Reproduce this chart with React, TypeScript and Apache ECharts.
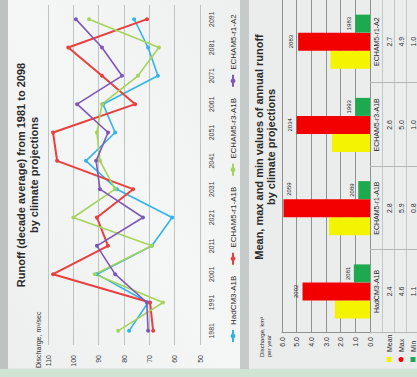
import React, { useEffect, useRef } from "react";
import * as echarts from "echarts";

// ---- Runoff (decade average) line chart data ----
const years = ["1981", "1991", "2001", "2011", "2021", "2031", "2041", "2051", "2061", "2071", "2081", "2091"];
const hadcm3A1B = [78, 70.5, 90.7, 69, 61, 82.8, 95, 83.5, 88.3, 66.6, 70.5, 76];
const echam5r1A1B = [68.5, 69.7, 108, 86.3, 90.7, 76.4, 106.4, 108, 75.6, 88.7, 102, 70.9];
const echam5r3A1B = [82.3, 64.6, 91.5, 69, 100, 83.5, 89.5, 90.7, 88.7, 74.5, 66.2, 93.8];
const echam5r1A2 = [70.5, 71, 83.5, 90.7, 72.5, 89.5, 91, 86.3, 98.5, 80.8, 88.7, 99];
const lineNames = ["HadCM3-A1B", "ECHAM5-r1-A1B", "ECHAM5-r3-A1B", "ECHAM5-r1-A2"];
const lineColors = ["#33B4E4", "#E8403F", "#A5D45A", "#7E57B8"];
const runoffMin = 50;
const runoffMax = 110;
const runoffStep = 10;

// ---- Mean / max / min bar chart data ----
const projections = ["HadCM3-A1B", "ECHAM5-r1-A1B", "ECHAM5-r3-A1B", "ECHAM5-r1-A2"];
const meanRunoff = [2.4, 2.8, 2.6, 2.7];
const maxRunoff = [4.6, 5.9, 5.0, 4.9];
const minRunoff = [1.1, 0.8, 1.0, 1.0];
const maxYear = ["2002", "2059", "2034", "2083"];
const minYear = ["2081", "2089", "1993", "1983"];
const barNames = ["Mean", "Max", "Min"];
const barColors = ["#F4F400", "#F20000", "#1DAA4E"];

const FONT = "Liberation Sans";

function buildOption(): any {
  const lineData = [hadcm3A1B, echam5r1A1B, echam5r3A1B, echam5r1A2];
  const tableRows = [meanRunoff, maxRunoff, minRunoff];

  const txt = (x: number, y: number, text: string, size: number, bold: boolean, align = "center") => ({
    type: "text",
    x,
    y,
    silent: true,
    z: 5,
    style: {
      text,
      fontSize: size,
      fontWeight: bold ? "bold" : "normal",
      fontFamily: FONT,
      fill: "#2a2a2a",
      align,
      verticalAlign: "middle",
    },
  });

  return {
    animation: false,
    backgroundColor: "transparent",
    textStyle: { fontFamily: FONT },
    graphic: [
      { type: "rect", silent: true, z: -10, shape: { x: 0, y: 0, width: 377, height: 417 }, style: { fill: "#E4E8E6" } },
      {
        type: "rect", silent: true, z: -9, shape: { x: 9, y: 8, width: 368, height: 232 },
        style: {
          fill: new echarts.graphic.LinearGradient(0, 0, 1, 1, [
            { offset: 0, color: "#EDEFEE" },
            { offset: 0.5, color: "#F5F6F6" },
            { offset: 1, color: "#EEF0EF" },
          ]),
        },
      },
      { type: "rect", silent: true, z: -9, shape: { x: 0, y: 240, width: 377, height: 9 }, style: { fill: "#C6CAC9" } },
      { type: "rect", silent: true, z: -9, shape: { x: 9, y: 249, width: 368, height: 168 }, style: { fill: "#EBEDEC" } },
      { type: "rect", silent: true, z: -8, shape: { x: 0, y: 0, width: 377, height: 8 }, style: { fill: "#BEC3C1" } },
      { type: "rect", silent: true, z: -8, shape: { x: 0, y: 0, width: 8, height: 417 }, style: { fill: "#CFE4D3" } },
      txt(202, 21, "Runoff (decade average) from 1981 to 2098", 11, true),
      txt(202, 34, "by climate projections", 11, true),
      txt(9, 38, "Discharge, m³/sec", 7, false, "left"),
      txt(230, 259, "Mean, max and min values of annual runoff", 11, true),
      txt(230, 271, "by climate projections", 11, true),
      txt(20, 262, "Discharge, km³", 6, false, "left"),
      txt(20, 269, "per year", 6, false, "left"),
    ],
    legend: [
      {
        data: lineNames,
        orient: "horizontal",
        left: 34,
        top: 229,
        width: 342,
        padding: 0,
        itemWidth: 12,
        itemHeight: 6,
        itemGap: 10,
        textStyle: { fontSize: 8, color: "#2a2a2a", fontFamily: FONT },
      },
      {
        data: [
          { name: "Mean", icon: "rect" },
          { name: "Max", icon: "circle" },
          { name: "Min", icon: "rect" },
        ],
        orient: "vertical",
        left: 15,
        top: 385,
        height: 32,
        padding: 0,
        itemWidth: 5,
        itemHeight: 5,
        itemGap: 4,
        textStyle: { fontSize: 7, lineHeight: 8, color: "#2a2a2a", fontFamily: FONT },
      },
    ],
    grid: [
      { left: 32, right: 5, top: 48, bottom: 217 },
      { left: 44, right: 0, top: 282, bottom: 47 },
    ],
    xAxis: [
      {
        type: "category",
        gridIndex: 0,
        data: years,
        boundaryGap: true,
        axisLine: { show: false },
        axisTick: { show: false },
        axisLabel: { fontSize: 7, color: "#3a3a3a", margin: 8 },
      },
      {
        type: "category",
        gridIndex: 1,
        data: projections,
        boundaryGap: true,
        axisLine: { show: true, lineStyle: { color: "#8E9291", width: 1 } },
        axisTick: { show: true, length: 47, lineStyle: { color: "#B3B7B6" } },
        axisLabel: { fontSize: 7, color: "#2a2a2a", margin: 3 },
      },
      ...tableRows.map((row, k) => ({
        type: "category",
        gridIndex: 1,
        data: projections,
        position: "bottom",
        offset: 12 + 12 * k,
        axisLine: { show: true, lineStyle: { color: "#C2C6C5", width: 1 } },
        axisTick: { show: false },
        axisLabel: {
          fontSize: 7,
          color: "#2a2a2a",
          margin: 4,
          formatter: (_v: string, idx: number) => row[idx].toFixed(1),
        },
      })),
    ],
    yAxis: [
      {
        type: "value",
        gridIndex: 0,
        min: runoffMin,
        max: runoffMax,
        interval: runoffStep,
        axisLine: { show: false },
        axisTick: { show: false },
        splitLine: { lineStyle: { color: "#BFC3C2", width: 1 } },
        axisLabel: { fontSize: 7, color: "#3a3a3a", margin: 10 },
      },
      {
        type: "value",
        gridIndex: 1,
        min: 0,
        max: 6,
        interval: 1,
        axisLine: { show: true, lineStyle: { color: "#8E9291" } },
        axisTick: { show: false },
        splitLine: { lineStyle: { color: "#8E9291", width: 1 } },
        axisLabel: { fontSize: 7, color: "#2a2a2a", margin: 4, formatter: (v: number) => v.toFixed(1) },
      },
    ],
    series: [
      ...lineData.map((d, i) => ({
        name: lineNames[i],
        type: "line",
        xAxisIndex: 0,
        yAxisIndex: 0,
        data: d,
        symbol: "circle",
        symbolSize: 4,
        color: lineColors[i],
        lineStyle: { width: i === 1 ? 2 : 1.6, color: lineColors[i] },
        itemStyle: { color: lineColors[i] },
      })),
      {
        name: barNames[0],
        type: "bar",
        xAxisIndex: 1,
        yAxisIndex: 1,
        data: meanRunoff,
        barWidth: 18,
        barGap: "0%",
        itemStyle: { color: barColors[0] },
      },
      {
        name: barNames[1],
        type: "bar",
        xAxisIndex: 1,
        yAxisIndex: 1,
        data: maxRunoff.map((v, i) => (i === 1 ? { value: v, label: { offset: [19, 13] } } : v)),
        barWidth: 18,
        barGap: "0%",
        itemStyle: { color: barColors[1] },
        label: {
          show: true,
          position: "top",
          distance: 4,
          fontSize: 6,
          color: "#2a2a2a",
          formatter: (p: any) => maxYear[p.dataIndex],
        },
      },
      {
        name: barNames[2],
        type: "bar",
        xAxisIndex: 1,
        yAxisIndex: 1,
        data: minRunoff,
        barWidth: 18,
        barGap: "0%",
        itemStyle: { color: barColors[2] },
        label: {
          show: true,
          position: "top",
          distance: 3,
          fontSize: 6,
          color: "#2a2a2a",
          formatter: (p: any) => minYear[p.dataIndex],
        },
      },
    ],
  };
}

export default function App() {
  const ref = useRef<HTMLDivElement>(null);
  useEffect(() => {
    if (!ref.current) return;
    const chart = echarts.init(ref.current, null, { renderer: "svg" });
    chart.setOption(buildOption());
    return () => chart.dispose();
  }, []);
  return (
    <div
      style={{
        position: "fixed",
        left: 0,
        top: 0,
        width: 417,
        height: 377,
        overflow: "hidden",
        background: "#E4E8E6",
      }}
    >
      <div
        ref={ref}
        style={{
          position: "absolute",
          left: 0,
          top: 0,
          width: 377,
          height: 417,
          transformOrigin: "0 0",
          transform: "translateY(377px) rotate(-90deg)",
        }}
      />
    </div>
  );
}
